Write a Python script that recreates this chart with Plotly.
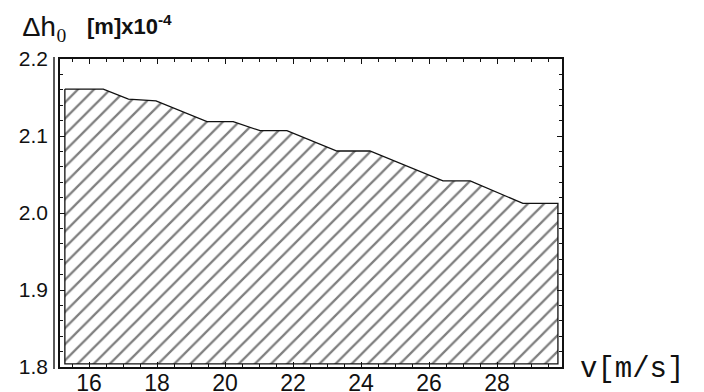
import plotly.graph_objects as go

# data
v = [15.29, 16.42, 17.16, 17.97, 19.47, 20.24, 21.03, 21.82, 23.29, 24.26, 26.41, 27.21, 28.76, 29.79]
dh = [2.161, 2.161, 2.148, 2.1455, 2.1186, 2.1186, 2.1069, 2.1069, 2.0805, 2.0805, 2.0416, 2.0416, 2.0126, 2.0126]
base = 1.804
x_ticks = [16, 18, 20, 22, 24, 26, 28]
y_ticks = [1.8, 1.9, 2.0, 2.1, 2.2]

xs = v + [v[-1], v[0], v[0]]
ys = dh + [base, base, dh[0]]

fig = go.Figure()
fig.add_trace(go.Scatter(
    x=xs, y=ys, mode="lines", fill="toself",
    line=dict(color="#111", width=1.3),
    fillcolor="white",
    fillpattern=dict(shape="/", size=11.4, solidity=0.2, fgcolor="black", bgcolor="white"),
    hoverinfo="skip", showlegend=False,
))

# page body has an 8px offset; positions below are screen pixels minus 8
OFF = 8
W, H = 704, 392
L, T = 60 - OFF, 59 - OFF
pw, ph = 502, 308
R = W - L - pw
B = H - T - ph

def px(x):
    return (x - OFF - L) / pw

def py(y):
    return (T + ph - (y - OFF)) / ph

xtickfont = dict(family="Liberation Sans, Arial, sans-serif", size=23, color="#111")
ytickfont = dict(family="Liberation Sans, Arial, sans-serif", size=21, color="#111")

fig.update_layout(
    width=W, height=H,
    margin=dict(l=L, r=R, t=T, b=B),
    paper_bgcolor="white", plot_bgcolor="white",
    showlegend=False,
    xaxis=dict(
        range=[15.147, 29.91], tickvals=x_ticks, ticktext=[str(t) for t in x_ticks],
        ticks="inside", ticklen=5, tickwidth=1, tickcolor="#111",
        minor=dict(ticks="inside", ticklen=3, dtick=0.5, tick0=16, tickcolor="#111", showgrid=False),
        showline=True, linecolor="#111", linewidth=1.5, mirror="ticks",
        showgrid=False, zeroline=False, tickfont=xtickfont, ticklabelstandoff=-5,
        automargin=False,
    ),
    yaxis=dict(
        range=[1.8, 2.2], tickvals=y_ticks, ticktext=["%.1f" % t for t in y_ticks],
        ticks="inside", ticklen=5, tickwidth=1, tickcolor="#111",
        minor=dict(ticks="inside", ticklen=3, dtick=0.02, tick0=1.8, tickcolor="#111", showgrid=False),
        showline=True, linecolor="#111", linewidth=1.5, mirror="ticks",
        showgrid=False, zeroline=False, tickfont=ytickfont, ticklabelstandoff=6,
        automargin=False,
    ),
    shapes=[dict(type="line", xref="paper", yref="paper",
                 x0=px(54), x1=px(54), y0=py(369), y1=py(57),
                 line=dict(color="#222", width=1.5))],
    annotations=[
        dict(text="Δh<sub><span style='font-family:Liberation Serif'>0</span></sub>",
             xref="paper", yref="paper", x=px(21), y=py(29),
             xanchor="left", yanchor="middle", showarrow=False,
             font=dict(family="Liberation Mono, Courier New, monospace", size=28, color="#111")),
        dict(text="<b>[m]x10<sup>-4</sup></b>", xref="paper", yref="paper", x=px(85), y=py(25),
             xanchor="left", yanchor="middle", showarrow=False,
             font=dict(family="Liberation Sans, Arial, sans-serif", size=22, color="#111")),
        dict(text="v[m/s]", xref="paper", yref="paper", x=px(578), y=py(369),
             xanchor="left", yanchor="middle", showarrow=False,
             font=dict(family="Liberation Mono, Courier New, monospace", size=29, color="#111")),
    ],
)

fig.write_html("out.html")
